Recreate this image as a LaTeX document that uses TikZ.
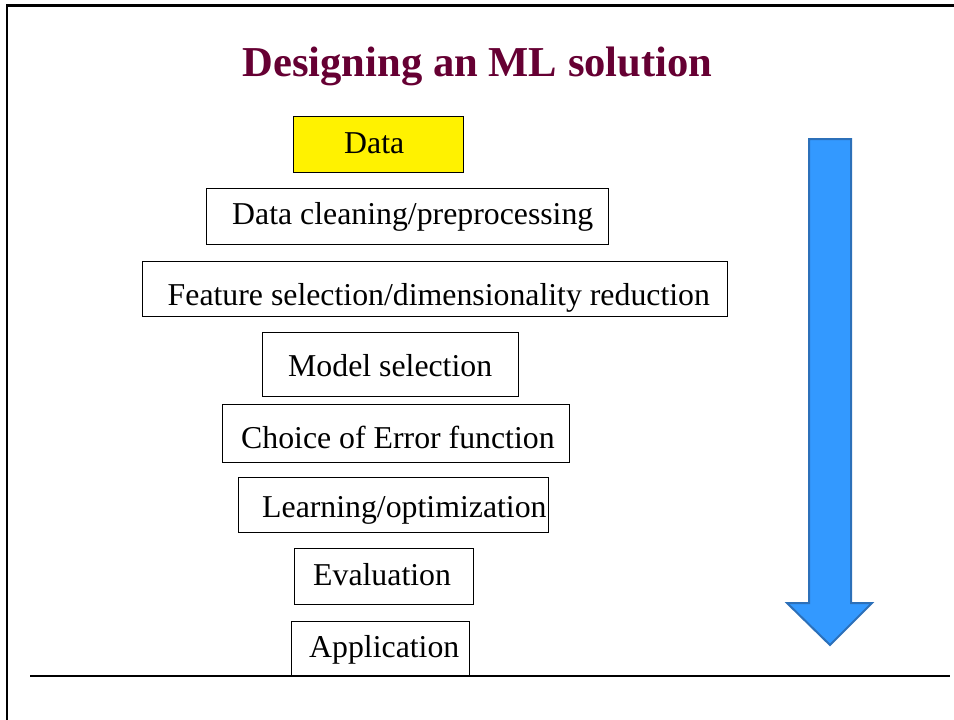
\documentclass[tikz,border=0pt]{standalone}
\usepackage{fontspec}
\setmainfont{Liberation Serif}
\definecolor{titlered}{RGB}{102,0,51}
\definecolor{arrowfill}{RGB}{51,153,255}
\definecolor{arrowedge}{RGB}{44,112,185}
\tikzset{
  stepbox/.style={draw=black, line width=1pt, rectangle, inner sep=0pt},
  steplabel/.style={anchor=base west, inner sep=0pt, font=\fontsize{31.8}{38}\selectfont},
}
\begin{document}
\begin{tikzpicture}[x=1pt,y=-1pt]
\useasboundingbox (0,0) rectangle (954,720);
% slide frame: top and left edges, and the footer rule
\draw[line width=2.7pt] (7,720) -- (7,5.3) -- (954,5.3);
\draw[line width=1.8pt] (30,675.7) -- (950,675.7);

% title
\node[anchor=base, inner sep=0pt, text=titlered,
      font=\fontsize{42.6}{50}\selectfont\bfseries] (title) at (477.5,76) {Designing an ML solution};

% pipeline boxes
\node[stepbox, fill=yellow, minimum width=170pt, minimum height=56pt] (data)  at (378,144) {};
\node[stepbox, minimum width=402pt, minimum height=56pt] (clean) at (407,216) {};
\node[stepbox, minimum width=585pt, minimum height=55pt] (feat)  at (434.5,288.5) {};
\node[stepbox, minimum width=256pt, minimum height=64pt] (model) at (390,364) {};
\node[stepbox, minimum width=347pt, minimum height=58pt] (err)   at (395.5,433) {};
\node[stepbox, minimum width=310pt, minimum height=55pt] (learn) at (393,504.5) {};
\node[stepbox, minimum width=179pt, minimum height=56pt] (eval)  at (383.5,576) {};
\node[stepbox, minimum width=178pt, minimum height=55pt] (app)   at (380,648.5) {};

% box labels
\node[steplabel] (datat)  at (344,153) {Data};
\node[steplabel] (cleant) at (232,224) {Data cleaning/preprocessing};
\node[steplabel] (featt)  at (167.5,305) {Feature selection/dimensionality reduction};
\node[steplabel] (modelt) at (288,376) {Model selection};
\node[steplabel] (errt)   at (241,448) {Choice of Error function};
\node[steplabel] (learnt) at (262,517) {Learning/optimization};
\node[steplabel] (evalt)  at (313,585) {Evaluation};
\node[steplabel] (appt)   at (309,657) {Application};

% downward block arrow
\draw[fill=arrowfill, draw=arrowedge, line width=2pt, line join=miter]
  (809,139) -- (851,139) -- (851,603) -- (872,603) -- (830,645)
  -- (787,603) -- (809,603) -- cycle;
\end{tikzpicture}
\end{document}
